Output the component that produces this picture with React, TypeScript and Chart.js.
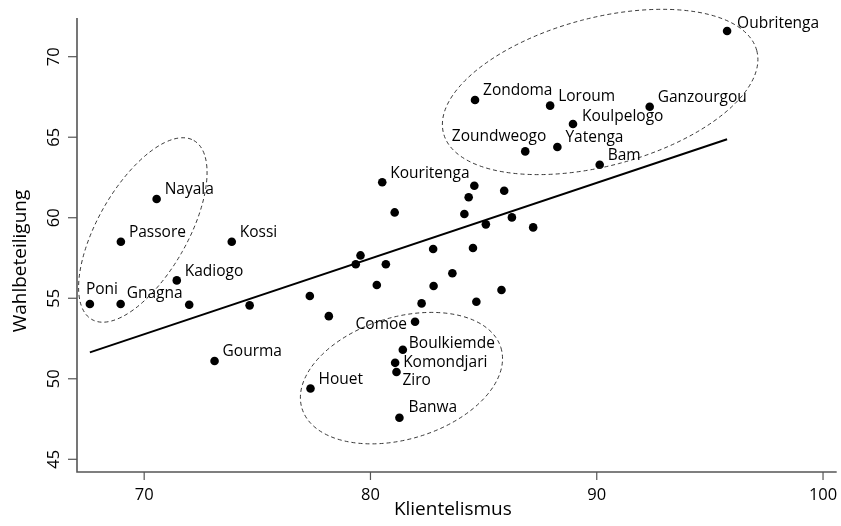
import React, { useEffect, useRef } from "react";
import { Chart, registerables } from "chart.js";

Chart.register(...registerables);

const provinceNames: string[] = [
  "Oubritenga", "Zondoma", "Loroum", "Ganzourgou", "Koulpelogo", "Zoundweogo",
  "Yatenga", "Bam", "Kouritenga", "Nayala", "Passore", "Kossi", "Kadiogo",
  "Poni", "Gnagna", "Gourma", "Comoe", "Boulkiemde", "Komondjari", "Ziro",
  "Houet", "Banwa",
  "", "", "", "", "", "", "", "", "", "", "", "", "", "", "", "", "", "", "", "", "", "", "",
];

const klientelismus: number[] = [
  95.76, 84.62, 87.94, 92.34, 88.95, 86.84,
  88.26, 90.13, 80.52, 70.55, 68.97, 73.87, 71.44,
  67.6, 68.96, 73.11, 81.97, 81.43, 81.09, 81.15,
  77.35, 81.28,
  84.59, 85.91, 84.34, 81.07, 84.15, 85.1, 86.25, 87.19, 82.77, 84.53,
  79.56, 79.35, 80.68, 83.62, 80.28, 82.79, 77.32, 85.79, 82.26, 84.68,
  78.16, 71.99, 74.66,
];

const wahlbeteiligung: number[] = [
  71.6, 67.31, 66.96, 66.89, 65.82, 64.12,
  64.39, 63.29, 62.2, 61.16, 58.51, 58.51, 56.11,
  54.64, 54.64, 51.1, 53.54, 51.8, 50.99, 50.42,
  49.4, 47.58,
  61.99, 61.68, 61.27, 60.33, 60.23, 59.59, 60.02, 59.4, 58.06, 58.12,
  57.66, 57.11, 57.11, 56.55, 55.82, 55.76, 55.14, 55.51, 54.68, 54.78,
  53.89, 54.6, 54.56,
];

const regressionX: number[] = [67.6, 95.76];
const regressionY: number[] = [51.64, 64.87];

const xTicks: number[] = [70, 80, 90, 100];
const yTicks: number[] = [45, 50, 55, 60, 65, 70];

const xTitle = "Klientelismus";
const yTitle = "Wahlbeteiligung";

// cluster ellipses: centre in data units
const ellipseCenterX: number[] = [69.94, 90.15, 81.37];
const ellipseCenterY: number[] = [59.24, 67.81, 50.04];

// drawing geometry (pixels / degrees) for the ellipses
const ellipseGeom = [
  { a: 103, b: 45, rot: -60.35 },
  { a: 162, b: 74, rot: -14.8 },
  { a: 104, b: 61, rot: -16.9 },
];

// label placement: dx, dy (pixels) and alignment
const labelPlacement: Record<string, { dx: number; dy: number; align: CanvasTextAlign }> = {
  Oubritenga: { dx: 10, dy: -7, align: "left" },
  Koulpelogo: { dx: 9, dy: -7, align: "left" },
  Zoundweogo: { dx: 21, dy: -15, align: "right" },
  Poni: { dx: -4, dy: -14, align: "left" },
  Comoe: { dx: -8, dy: 3, align: "right" },
  Boulkiemde: { dx: 6, dy: -6, align: "left" },
  Komondjari: { dx: 8, dy: 0, align: "left" },
  Ziro: { dx: 6, dy: 9, align: "left" },
  Gnagna: { dx: 6, dy: -10, align: "left" },
  Banwa: { dx: 9, dy: -10, align: "left" },
};
const defaultPlacement = { dx: 8, dy: -9, align: "left" as CanvasTextAlign };

const FONT = '"Open Sans", "DejaVu Sans", sans-serif';

const overlayPlugin = {
  id: "overlay",
  afterDatasetsDraw(chart: any) {
    const ctx: CanvasRenderingContext2D = chart.ctx;
    const xs = chart.scales.x;
    const ys = chart.scales.y;
    // ellipses
    ctx.save();
    ctx.strokeStyle = "#222";
    ctx.lineWidth = 0.9;
    ctx.setLineDash([4, 3]);
    for (let i = 0; i < ellipseCenterX.length; i++) {
      const g = ellipseGeom[i];
      ctx.beginPath();
      ctx.ellipse(
        xs.getPixelForValue(ellipseCenterX[i]),
        ys.getPixelForValue(ellipseCenterY[i]),
        g.a,
        g.b,
        (g.rot * Math.PI) / 180,
        0,
        Math.PI * 2
      );
      ctx.stroke();
    }
    ctx.restore();

    // point labels
    ctx.save();
    ctx.fillStyle = "#000";
    ctx.font = `15.5px ${FONT}`;
    ctx.textBaseline = "middle";
    for (let i = 0; i < provinceNames.length; i++) {
      const name = provinceNames[i];
      if (!name) continue;
      const p = labelPlacement[name] || defaultPlacement;
      const px = xs.getPixelForValue(klientelismus[i]);
      const py = ys.getPixelForValue(wahlbeteiligung[i]);
      ctx.textAlign = p.align;
      ctx.fillText(name, px + p.dx, py + p.dy);
    }
    ctx.restore();
  },
  afterDraw(chart: any) {
    const ctx: CanvasRenderingContext2D = chart.ctx;
    const area = chart.chartArea;
    const xs = chart.scales.x;
    const ys = chart.scales.y;
    ctx.save();
    ctx.strokeStyle = "#555";
    ctx.lineWidth = 1.6;
    ctx.beginPath();
    ctx.moveTo(area.left, area.top);
    ctx.lineTo(area.left, area.bottom);
    ctx.lineTo(area.right, area.bottom);
    ctx.stroke();

    ctx.lineWidth = 1.2;
    ctx.fillStyle = "#000";
    ctx.font = `16.5px ${FONT}`;
    for (const t of xTicks) {
      const px = xs.getPixelForValue(t);
      ctx.beginPath();
      ctx.moveTo(px, area.bottom);
      ctx.lineTo(px, area.bottom + 8);
      ctx.stroke();
      ctx.textAlign = "center";
      ctx.textBaseline = "alphabetic";
      ctx.fillText(String(t), px, area.bottom + 28);
    }
    for (const t of yTicks) {
      const py = ys.getPixelForValue(t);
      ctx.beginPath();
      ctx.moveTo(area.left, py);
      ctx.lineTo(area.left - 9, py);
      ctx.stroke();
      ctx.save();
      ctx.translate(area.left - 18, py);
      ctx.rotate(-Math.PI / 2);
      ctx.textAlign = "center";
      ctx.textBaseline = "alphabetic";
      ctx.fillText(String(t), 0, 0);
      ctx.restore();
    }

    ctx.font = `19px ${FONT}`;
    ctx.textAlign = "center";
    ctx.textBaseline = "alphabetic";
    ctx.fillText(xTitle, (area.left + area.right) / 2 - 4, area.bottom + 43);
    ctx.save();
    ctx.translate(area.left - 51, (area.top + area.bottom) / 2 + 16);
    ctx.rotate(-Math.PI / 2);
    ctx.fillText(yTitle, 0, 0);
    ctx.restore();
    ctx.restore();
  },
};

export default function App() {
  const ref = useRef<HTMLCanvasElement | null>(null);
  useEffect(() => {
    if (!ref.current) return;
    const points = klientelismus.map((x, i) => ({ x, y: wahlbeteiligung[i] }));
    const line = regressionX.map((x, i) => ({ x, y: regressionY[i] }));
    const chart = new Chart(ref.current, {
      type: "scatter",
      data: {
        datasets: [
          {
            data: line,
            showLine: true,
            borderColor: "#000",
            borderWidth: 2,
            pointRadius: 0,
            fill: false,
          } as any,
          {
            data: points,
            backgroundColor: "#000",
            borderWidth: 0,
            pointRadius: 4.3,
          },
        ],
      },
      options: {
        responsive: false,
        animation: false,
        devicePixelRatio: 1,
        layout: { padding: { left: 0, right: 3, top: 18, bottom: 0 } },
        plugins: { legend: { display: false }, tooltip: { enabled: false } },
        scales: {
          x: {
            type: "linear",
            min: 67.031,
            max: 100.604,
            grid: { display: false },
            border: { display: false },
            ticks: { display: false },
            afterFit: (s: any) => {
              s.height = 54;
            },
          },
          y: {
            type: "linear",
            min: 44.211,
            max: 72.403,
            grid: { display: false },
            border: { display: false },
            ticks: { display: false },
            afterFit: (s: any) => {
              s.width = 77;
            },
          },
        },
      },
      plugins: [overlayPlugin],
    });
    return () => chart.destroy();
  }, []);
  return (
    <div style={{ position: "absolute", left: 0, top: 0, width: 841, height: 526, background: "#fff" }}>
      <canvas ref={ref} width={841} height={526} style={{ width: 841, height: 526 }} />
    </div>
  );
}
